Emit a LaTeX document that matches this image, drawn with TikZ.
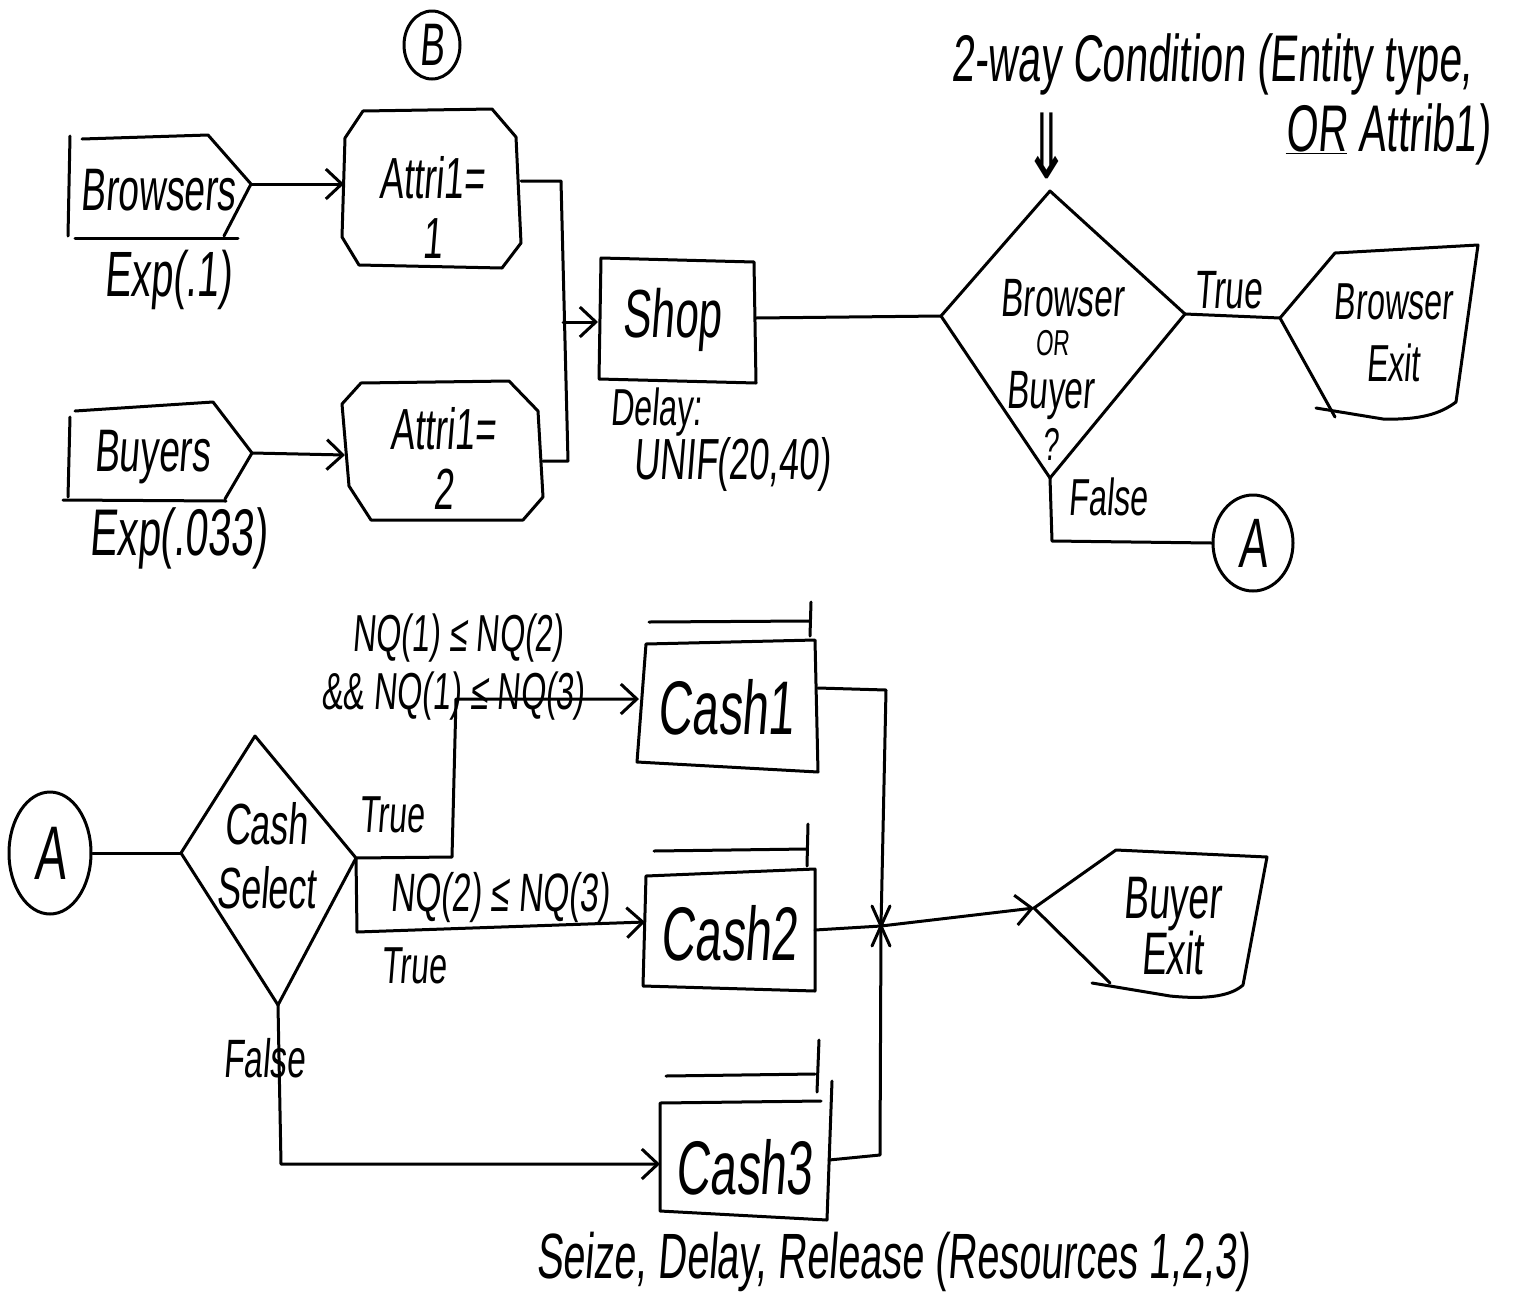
\documentclass[tikz,border=0pt]{standalone}
\usepackage{fontspec}
\newfontfamily\hand[FakeStretch=0.62,FakeSlant=0.08]{Liberation Sans}
\newfontfamily\handdv[FakeStretch=0.62]{DejaVu Sans}
\usetikzlibrary{arrows.meta,shapes.geometric}
\newcommand{\hs}[2]{\fontsize{#1}{#2}\selectfont}
\begin{document}
\begin{tikzpicture}[x=1pt,y=-1pt,
  ln/.style={line width=3pt, line cap=round, line join=round},
  arr/.style={ln, -{Straight Barb[length=16pt,width=30pt]}},
  lbl/.style={inner sep=0pt, align=center, font=\hand\hs{60}{60}},
  conn/.style={ln, draw, ellipse, inner sep=0pt},
]
\useasboundingbox (0,0) rectangle (1518,1296);

% ---------- connector circle B
\node[conn, minimum width=56pt, minimum height=68pt, font=\hand\hs{60}{60}] (B) at (432,45) {B};

% ---------- Browsers (create)
\coordinate (brP) at (251,184);
\draw[ln] (70,136) -- (68,236);
\draw[ln] (82,139) -- (208,135) -- (brP) -- (224,236);
\draw[ln] (75,238) -- (238,238);
\node[lbl] (browsers) at (158,190) {Browsers};
\node[lbl, font=\hand\hs{64}{64}] (exp1) at (168,280) {Exp(.1)};

% ---------- Buyers (create)
\coordinate (buP) at (252,453);
\draw[ln] (75,411) -- (213,402) -- (buP) -- (225,499);
\draw[ln] (63,500) -- (226,501);
\draw[ln] (70,417) -- (68,497);
\node[lbl] (buyers) at (152,457) {Buyers};
\node[lbl, font=\hand\hs{66}{66}] (exp2) at (178,538) {Exp(.033)};

% ---------- Assign boxes
\draw[ln] (363,111) -- (492,109) -- (516,137) -- (521,243) -- (502,268) -- (359,265) -- (342,237) -- (345,138) -- cycle;
\node[lbl, font=\hand\hs{58}{60}] (attr1) at (432,207) {Attri1=\\1};
\coordinate (a1in) at (344,184);
\coordinate (a1out) at (521,181);

\draw[ln] (361,383) -- (509,381) -- (538,411) -- (543,497) -- (523,520) -- (371,520) -- (349,486) -- (342,404) -- cycle;
\node[lbl, font=\hand\hs{58}{60}] (attr2) at (443,458) {Attri1=\\2};
\coordinate (a2in) at (345,455);
\coordinate (a2out) at (543,461);

\draw[arr] (brP) -- (a1in);
\draw[arr] (buP) -- (a2in);

% ---------- merge into Shop
\coordinate (mtop) at (561,181);
\coordinate (mbot) at (568,461);
\coordinate (mmid) at (563,322);
\coordinate (shopin) at (598,322);
\draw[ln] (a1out) -- (mtop) -- (mbot) -- (a2out);
\draw[arr] (mmid) -- (shopin);

% ---------- Shop (process)
\draw[ln] (601,258) -- (754,262) -- (756,383) -- (599,379) -- cycle;
\node[lbl, font=\hand\hs{68}{68}] (shop) at (672,320) {Shop};
\node[lbl, font=\hand\hs{52}{52}] (delay) at (656,412) {Delay:};
\node[lbl, font=\hand\hs{58}{58}] (unif) at (732,464) {UNIF(20,40)};
\coordinate (shopout) at (756,318);

% ---------- Decide 1
\coordinate (d1L) at (941,316);
\coordinate (d1T) at (1050,191);
\coordinate (d1R) at (1185,314);
\coordinate (d1B) at (1050,478);
\draw[ln] (d1L) -- (d1T) -- (d1R) -- (d1B) -- cycle;
\node[lbl, font=\hand\hs{54}{54}] (brw) at (1062,298) {Browser};
\node[lbl, font=\hand\hs{36}{36}] (or1) at (1052,343) {OR};
\node[lbl, font=\hand\hs{54}{54}] (buy) at (1050,396) {Buyer};
\node[lbl, font=\hand\hs{46}{46}] (qm) at (1050,444) {?};
\draw[ln] (shopout) -- (d1L);

\node[lbl, font=\hand\hs{66}{66}] (cond1) at (1212,64) {2-way Condition (Entity type,};
\node[lbl, font=\hand\hs{66}{66}] (cond2) at (1388,134) {\underline{OR} Attrib1)};
\node[lbl, font=\handdv\hs{90}{90}] (dn) at (1047,146) {⇓};

% ---------- Browser Exit (dispose)
\coordinate (bxP) at (1280,318);
\draw[ln] (bxP) -- (1335,253) -- (1478,245) -- (1456,402) .. controls (1440,414) and (1420,420) .. (1383,419) -- (1316,408);
\draw[ln] (bxP) -- (1335,417);
\node[lbl, font=\hand\hs{52}{62}] (bx) at (1393,333) {Browser\\Exit};
\draw[ln] (d1R) -- (bxP);
\node[lbl, font=\hand\hs{54}{54}] (true1) at (1228,290) {True};

% ---------- False -> A
\node[conn, minimum width=80pt, minimum height=96pt, font=\hand\hs{70}{70}] (A1) at (1253,543) {A};
\coordinate (f1c) at (1052,541);
\draw[ln] (d1B) -- (f1c) -- (A1.west);
\node[lbl, font=\hand\hs{52}{52}] (false1) at (1108,497) {False};

% ---------- bottom: A -> Cash Select
\node[conn, minimum width=82pt, minimum height=122pt, font=\hand\hs{76}{76}] (A2) at (50,853) {A};
\coordinate (d2L) at (181,853);
\coordinate (d2T) at (255,736);
\coordinate (d2R) at (356,858);
\coordinate (d2B) at (278,1005);
\draw[ln] (d2L) -- (d2T) -- (d2R) -- (d2B) -- cycle;
\node[lbl, font=\hand\hs{58}{64}] (cs) at (266,856) {Cash\\Select};
\draw[ln] (A2.east) -- (d2L);

% ---------- Cash boxes (process with queue)
\draw[ln] (649,622) -- (809,621);
\draw[ln] (811,602) -- (810,636);
\draw[ln] (646,644) -- (815,640) -- (818,772) -- (637,762) -- cycle;
\node[lbl, font=\hand\hs{76}{76}] (cash1) at (726,707) {Cash1};
\coordinate (c1in) at (639,699);
\coordinate (c1out) at (818,688);

\draw[ln] (654,851) -- (807,849);
\draw[ln] (808,824) -- (807,866);
\draw[ln] (646,876) -- (815,869) -- (815,991) -- (643,986) -- cycle;
\node[lbl, font=\hand\hs{76}{76}] (cash2) at (729,933) {Cash2};
\coordinate (c2in) at (645,922);
\coordinate (c2out) at (815,930);

\draw[ln] (666,1076) -- (815,1074);
\draw[ln] (819,1040) -- (817,1092);
\draw[ln] (832,1081) -- (827,1220) -- (660,1211) -- (660,1103) -- (821,1101);
\node[lbl, font=\hand\hs{76}{76}] (cash3) at (744,1167) {Cash3};
\coordinate (c3in) at (660,1164);
\coordinate (c3out) at (829,1160);

% ---------- Cash Select branches
\coordinate (t1a) at (452,857);
\coordinate (t1b) at (456,699);
\draw[arr] (d2R) -- (t1a) -- (t1b) -- (c1in);
\node[lbl, font=\hand\hs{52}{52}] (true2) at (392,815) {True};
\node[lbl, font=\hand\hs{52}{52}] (nq1) at (458,638) {NQ(1) ≤ NQ(2)};
\node[lbl, font=\hand\hs{52}{52}] (nq2) at (453,696) {\&\& NQ(1) ≤ NQ(3)};

\coordinate (t2a) at (357,932);
\draw[arr] (d2R) -- (t2a) -- (c2in);
\node[lbl, font=\hand\hs{54}{54}] (nq3) at (500,898) {NQ(2) ≤ NQ(3)};
\node[lbl, font=\hand\hs{52}{52}] (true3) at (414,966) {True};

\coordinate (f2a) at (281,1164);
\draw[arr] (d2B) -- (f2a) -- (c3in);
\node[lbl, font=\hand\hs{54}{54}] (false2) at (264,1058) {False};

% ---------- merge to Buyer Exit
\coordinate (jn) at (881,926);
\coordinate (j1) at (886,690);
\coordinate (j3) at (880,1155);
\draw[ln] (c1out) -- (j1) -- (jn);
\draw[ln] (c3out) -- (j3) -- (jn);
\draw[ln] (c2out) -- (jn);
\draw[ln] (jn) ++(-9,-20) -- ++(18,40);
\draw[ln] (jn) ++(9,-20) -- ++(-18,40);

\coordinate (beP) at (1034,908);
\draw[arr] (jn) -- (beP);
\draw[ln] (beP) -- (1116,850) -- (1267,857) -- (1243,985) .. controls (1232,995) and (1210,1000) .. (1170,996) -- (1092,983);
\draw[ln] (beP) -- (1110,983);
\node[lbl, font=\hand\hs{60}{56}] (bex) at (1172,926) {Buyer\\Exit};

% ---------- bottom note
\node[lbl, font=\hand\hs{64}{64}] (note) at (893,1262) {Seize, Delay, Release (Resources 1,2,3)};
\end{tikzpicture}
\end{document}
